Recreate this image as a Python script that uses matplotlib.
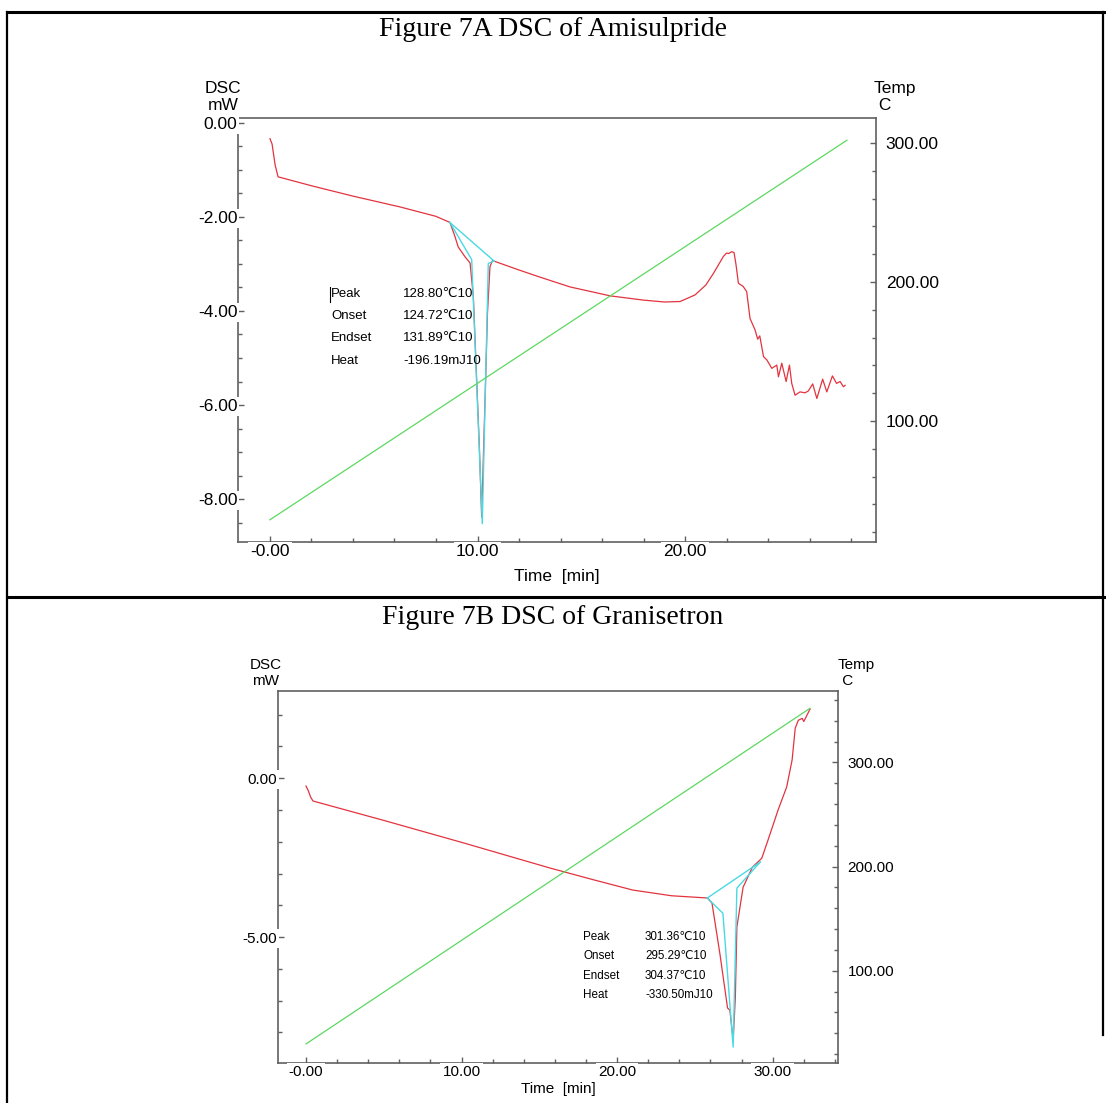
import matplotlib
matplotlib.use("Agg")
import matplotlib.pyplot as plt
from matplotlib.ticker import MultipleLocator
from matplotlib.lines import Line2D

plt.rcParams['font.family'] = ['Liberation Sans', 'DejaVu Sans']

# ---- data: Figure 7A (Amisulpride) ----
a_time = [0, 0.1, 0.25, 0.39, 2, 4, 6.27, 8, 8.67, 8.9, 9.07, 9.4, 9.64, 9.8, 9.96, 10.09,
          10.2, 10.27, 10.39, 10.48, 10.6, 10.72, 10.85, 12, 13, 14.46, 16.4, 18, 19.0, 19.76,
          20.48, 21.0, 21.37, 21.85, 22.0, 22.1, 22.25, 22.36, 22.45, 22.57, 22.8, 22.97, 23.13,
          23.37, 23.5, 23.6, 23.78, 23.94, 24.18, 24.42, 24.5, 24.66, 24.87, 25.03, 25.14, 25.3,
          25.54, 25.78, 25.94, 26.15, 26.35, 26.63, 26.83, 27.1, 27.3, 27.47, 27.63, 27.71]
a_dsc = [-0.34, -0.45, -0.9, -1.15, -1.34, -1.56, -1.79, -1.99, -2.12, -2.4, -2.64, -2.85, -2.98, -3.7, -5.47, -6.9,
         -8.38, -7.3, -5.47, -4.05, -3.06, -2.93, -2.95, -3.13, -3.28, -3.49, -3.68, -3.77, -3.81, -3.80,
         -3.66, -3.45, -3.20, -2.84, -2.77, -2.78, -2.74, -2.76, -3.0, -3.41, -3.48, -3.59, -4.16,
         -4.40, -4.60, -4.53, -4.97, -5.04, -5.22, -5.15, -5.40, -5.11, -5.50, -5.15, -5.54, -5.79,
         -5.72, -5.74, -5.70, -5.55, -5.86, -5.45, -5.72, -5.38, -5.54, -5.50, -5.61, -5.58]
a_base_t = [8.67, 10.8]
a_base_v = [-2.12, -2.94]
a_fit_t = [8.67, 9.72, 10.23, 10.52, 10.8]
a_fit_v = [-2.12, -2.91, -8.52, -2.99, -2.94]
a_temp_t = [0, 27.8]
a_temp = [29, 302]
a_xlabels = ['-0.00', '10.00', '20.00']
a_ylabels = ['0.00', '-2.00', '-4.00', '-6.00', '-8.00']
a_tlabels = ['100.00', '200.00', '300.00']
a_results = ['128.80℃10', '124.72℃10', '131.89℃10', '-196.19mJ10']

# ---- data: Figure 7B (Granisetron) ----
b_time = [0, 0.15, 0.3, 0.45, 5, 10, 15.7, 18.5, 21.0, 23.5, 25.8, 26.1, 26.6, 27.1, 27.25,
          27.46, 27.6, 27.7, 28.1, 28.7, 29.3, 29.7, 30.35, 30.9, 31.25, 31.45, 31.65, 31.9,
          32.0, 32.4]
b_dsc = [-0.25, -0.4, -0.6, -0.72, -1.33, -2.02, -2.83, -3.2, -3.52, -3.7, -3.77, -3.93, -5.5,
         -7.23, -7.3, -8.24, -6.9, -4.68, -3.43, -2.8, -2.52, -1.95, -1.0, -0.28, 0.57, 1.57,
         1.82, 1.88, 1.78, 2.17]
b_base_t = [25.8, 29.2]
b_base_v = [-3.77, -2.64]
b_fit_t = [25.8, 26.8, 27.46, 27.7, 29.2]
b_fit_v = [-3.77, -4.25, -8.46, -3.46, -2.64]
b_temp_t = [0, 32.4]
b_temp = [29.8, 352]
b_xlabels = ['-0.00', '10.00', '20.00', '30.00']
b_ylabels = ['0.00', '-5.00']
b_tlabels = ['100.00', '200.00', '300.00']
b_results = ['301.36℃10', '295.29℃10', '304.37℃10', '-330.50mJ10']

row_names = ['Peak', 'Onset', 'Endset', 'Heat']

W, H = 1106, 1103
fig = plt.figure(figsize=(W / 100, H / 100), dpi=100)

RED = '#e2343f'
GREEN = '#5cd860'
CYAN = '#48d9e2'
SPINE = '#606060'


def fx(px):
    return px / W


def fy(py):
    return 1 - py / H


def panel(l, t, r, b, xlim, ylim, tlim, xlabels, ylabels, tlabels, xmin, ymin, fs):
    ax = fig.add_axes([fx(l), fy(b), (r - l) / W, (b - t) / H])
    ax.set_xlim(xlim)
    ax.set_ylim(ylim)
    ax.set_xticks([float(s) for s in xlabels], xlabels)
    ax.set_yticks([float(s) for s in ylabels], ylabels)
    ax.xaxis.set_minor_locator(MultipleLocator(xmin))
    ax.yaxis.set_minor_locator(MultipleLocator(ymin))
    ax.tick_params(which='both', direction='in', color=SPINE, labelsize=fs)
    ax.tick_params(which='major', length=4.5, width=1)
    ax.tick_params(which='minor', length=3, width=1)
    ax.tick_params(axis='y', pad=0.5)
    ax.tick_params(axis='x', pad=1.5)
    for lab in ax.get_xticklabels() + ax.get_yticklabels():
        lab.set_bbox(dict(facecolor='white', edgecolor='none', pad=1.5))
    ax.xaxis.set_zorder(3)
    ax.yaxis.set_zorder(3)
    for s in ax.spines.values():
        s.set_color(SPINE)
        s.set_linewidth(1.2)
    ax.spines['right'].set_visible(False)

    tx = ax.twinx()
    tx.set_ylim(tlim)
    tx.set_yticks([float(s) for s in tlabels], tlabels)
    tx.yaxis.set_minor_locator(MultipleLocator(20))
    tx.tick_params(which='both', direction='in', color=SPINE, labelsize=fs, pad=7)
    tx.tick_params(which='major', length=4.5, width=1)
    tx.tick_params(which='minor', length=3, width=1)
    for k in ['left', 'top', 'bottom']:
        tx.spines[k].set_visible(False)
    tx.spines['right'].set_color(SPINE)
    tx.spines['right'].set_linewidth(1.2)
    return ax, tx


def results(x0, x1, ys, values, fs):
    for name, val, y in zip(row_names, values, ys):
        fig.text(fx(x0), fy(y), name, fontsize=fs, ha='left', va='center')
        fig.text(fx(x1), fy(y), val, fontsize=fs, ha='left', va='center')


# ---- panel A ----
axA, tA = panel(238, 118, 876, 542, (-1.54, 29.2), (-8.91, 0.1), (13, 318),
                a_xlabels, a_ylabels, a_tlabels, 2, 0.5, 12.5)
axA.plot(a_time, a_dsc, color=RED, lw=0.9)
axA.plot(a_base_t, a_base_v, color=CYAN, lw=1.0)
axA.plot(a_fit_t, a_fit_v, color=CYAN, lw=1.0)
tA.plot(a_temp_t, a_temp, color=GREEN, lw=0.9)
results(331, 403, [294, 316, 338, 361], a_results, 9.5)
fig.add_artist(Line2D([fx(330), fx(330)], [fy(287), fy(302)], transform=fig.transFigure,
                      color='black', lw=0.8))

fig.text(fx(553), fy(29), 'Figure 7A DSC of Amisulpride', family='Liberation Serif',
         fontsize=20, ha='center', va='center')
fig.text(fx(223), fy(97), 'DSC\nmW', fontsize=12.5, ha='center', va='center', linespacing=1.15)
fig.text(fx(874), fy(97), 'Temp\n C', fontsize=12.5, ha='left', va='center', linespacing=1.15)
fig.text(fx(557), fy(576), 'Time  [min]', fontsize=12.5, ha='center', va='center')

# ---- panel B ----
axB, tB = panel(278, 691, 838, 1063, (-1.8, 34.2), (-8.96, 2.74), (11.5, 368.6),
                b_xlabels, b_ylabels, b_tlabels, 2, 1, 11)
axB.plot(b_time, b_dsc, color=RED, lw=0.9)
axB.plot(b_base_t, b_base_v, color=CYAN, lw=1.0)
axB.plot(b_fit_t, b_fit_v, color=CYAN, lw=1.0)
tB.plot(b_temp_t, b_temp, color=GREEN, lw=0.9)
results(583, 645, [937, 956, 976, 995], b_results, 8.4)

fig.text(fx(553), fy(618), 'Figure 7B DSC of Granisetron', family='Liberation Serif',
         fontsize=20, ha='center', va='center')
fig.text(fx(266), fy(673), 'DSC\nmW', fontsize=11, ha='center', va='center', linespacing=1.15)
fig.text(fx(838), fy(673), 'Temp\n C', fontsize=11, ha='left', va='center', linespacing=1.15)
fig.text(fx(558), fy(1089), 'Time  [min]', fontsize=11, ha='center', va='center')

# ---- table borders ----
for xs, ys, lw in [([7, 1106], [12, 12], 2.2), ([7, 7], [12, 1103], 1.6),
                   ([7, 1106], [597, 597], 2.2), ([1103, 1103], [12, 1035], 1.6)]:
    fig.add_artist(Line2D([fx(x) for x in xs], [fy(y) for y in ys], transform=fig.transFigure,
                          color='black', lw=lw))

fig.savefig('out.png', dpi=100)
